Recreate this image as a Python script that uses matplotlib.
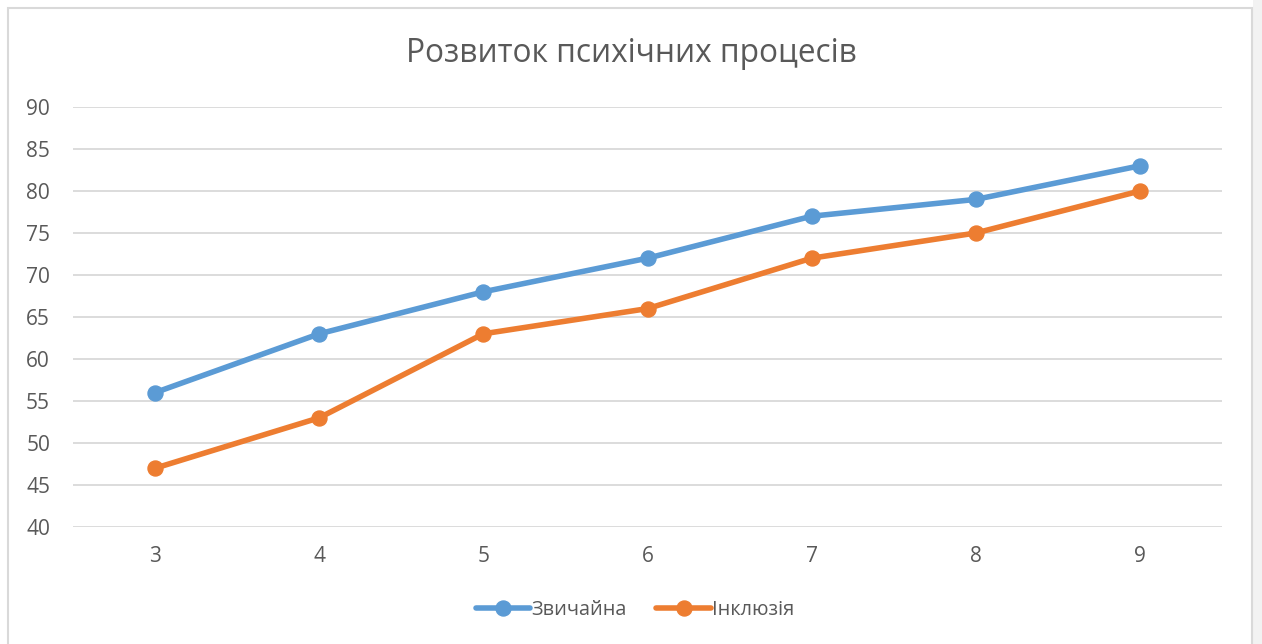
import matplotlib
matplotlib.use("Agg")
import matplotlib.pyplot as plt
from matplotlib.patches import Rectangle

grades = [3, 4, 5, 6, 7, 8, 9]
regular = [56, 63, 68, 72, 77, 79, 83]
inclusion = [47, 53, 63, 66, 72, 75, 80]
series_names = ["Звичайна", "Інклюзія"]
title = "Розвиток психічних процесів"

W, H = 1262, 644
plt.rcParams['font.family'] = ['Open Sans', 'DejaVu Sans']
fig = plt.figure(figsize=(W/100, H/100), dpi=100)

# chart frame
fig.patches.append(Rectangle((1253/W, 0), 9/W, 1, transform=fig.transFigure,
                             facecolor='#F2F2F2', edgecolor='none', zorder=-3))
fig.patches.append(Rectangle((8/W, -0.1), (1252-8)/W, (H-8)/H + 0.1, transform=fig.transFigure,
                             facecolor='white', edgecolor='#D9D9D9', linewidth=1.5, zorder=-2))

ax = fig.add_axes([73/W, 1-527/H, (1222-73)/W, (527-107)/H])
ax.set_facecolor('none')
ax.set_xlim(2.5, 9.5)
ax.set_ylim(40, 90)
ax.set_yticks(range(40, 91, 5))
ax.set_xticks(grades)
ax.set_xticklabels([str(g) for g in grades])
ax.grid(axis='y', color='#D9D9D9', linewidth=1.3)
ax.set_axisbelow(True)
for s in ax.spines.values():
    s.set_visible(False)
ax.tick_params(length=0, labelsize=15, colors='#595959')
ax.tick_params(axis='y', pad=16.5)
ax.tick_params(axis='x', pad=13.5)

ax.plot(grades, regular, color='#5B9BD5', linewidth=4, marker='o', markersize=10.8,
        label=series_names[0], solid_capstyle='round', zorder=3)
ax.plot(grades, inclusion, color='#ED7D31', linewidth=4, marker='o', markersize=10.8,
        label=series_names[1], solid_capstyle='round', zorder=3)

fig.text(631/W, 1-53/H, title, ha='center', va='center', fontsize=22.8, color='#595959')

leg = fig.legend(loc='center', bbox_to_anchor=(635/W, 1-610/H), ncol=2, frameon=False,
                 fontsize=14.3, labelcolor='#595959', handlelength=2.75, handletextpad=0.05,
                 columnspacing=1.5)

fig.savefig('out.png', dpi=100)
